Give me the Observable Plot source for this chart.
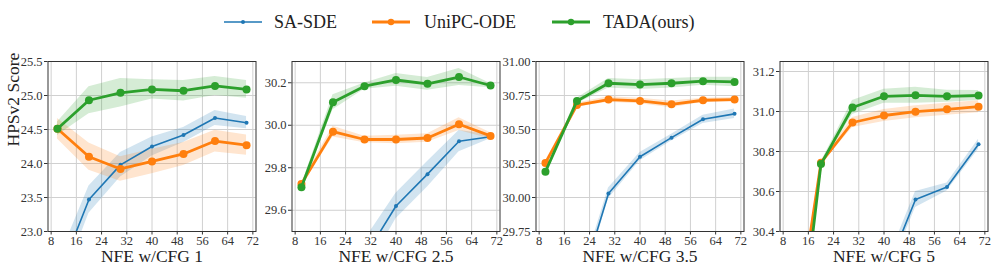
<!DOCTYPE html>
<html><head><meta charset="utf-8">
<script src="https://cdn.jsdelivr.net/npm/d3@7"></script>
<script src="https://cdn.jsdelivr.net/npm/@observablehq/plot@0.6"></script>
<style>
body{margin:0;background:#fff;width:996px;height:272px;position:relative;overflow:hidden;font-family:"Liberation Serif",serif;}
#legend{position:absolute;top:0;left:0;}
.panel{position:absolute;top:45px;}
</style></head><body>
<div id="legend"></div>
<div id="charts"></div>
<script>
// ---- data ----
const nfe = [10, 20, 30, 40, 50, 60, 70];
const xTicks = [8, 16, 24, 32, 40, 48, 56, 64, 72];
const methods = ["SA-SDE", "UniPC-ODE", "TADA(ours)"];
const colors = ["#1f77b4", "#ff7f0e", "#2ca02c"];
const cfgLabels = ["NFE w/CFG 1", "NFE w/CFG 2.5", "NFE w/CFG 3.5", "NFE w/CFG 5"];
const yLabel = "HPSv2 Score";

// CFG 1
const cfg1_sa      = [22.30, 23.47, 23.98, 24.25, 24.42, 24.67, 24.60];
const cfg1_sa_sd   = [0.25, 0.20, 0.18, 0.14, 0.11, 0.11, 0.09];
const cfg1_unipc   = [24.51, 24.10, 23.92, 24.03, 24.14, 24.33, 24.27];
const cfg1_unipc_sd= [0.15, 0.20, 0.18, 0.18, 0.17, 0.16, 0.15];
const cfg1_tada    = [24.51, 24.93, 25.04, 25.09, 25.07, 25.14, 25.09];
const cfg1_tada_sd = [0.10, 0.20, 0.21, 0.14, 0.15, 0.14, 0.13];
// CFG 2.5
const cfg25_sa      = [null, null, 29.38, 29.62, 29.77, 29.925, 29.946];
const cfg25_sa_sd   = [null, null, 0.08, 0.06, 0.06, 0.05, 0.01];
const cfg25_unipc   = [29.724, 29.97, 29.933, 29.933, 29.94, 30.005, 29.95];
const cfg25_unipc_sd= [0.01, 0.025, 0.015, 0.02, 0.02, 0.03, 0.015];
const cfg25_tada    = [29.708, 30.108, 30.184, 30.213, 30.195, 30.227, 30.187];
const cfg25_tada_sd = [0.01, 0.035, 0.015, 0.03, 0.03, 0.04, 0.01];
// CFG 3.5
const cfg35_sa      = [null, 29.27, 30.03, 30.30, 30.44, 30.575, 30.615];
const cfg35_sa_sd   = [null, 0.05, 0.04, 0.03, 0.025, 0.03, 0.035];
const cfg35_unipc   = [30.254, 30.68, 30.72, 30.71, 30.685, 30.715, 30.72];
const cfg35_unipc_sd= [0.015, 0.015, 0.02, 0.02, 0.025, 0.015, 0.015];
const cfg35_tada    = [30.19, 30.71, 30.84, 30.83, 30.84, 30.855, 30.85];
const cfg35_tada_sd = [0.01, 0.02, 0.035, 0.035, 0.035, 0.03, 0.035];
// CFG 5
const cfg5_sa      = [null, null, null, 30.17, 30.56, 30.623, 30.836];
const cfg5_sa_sd   = [null, null, null, 0.04, 0.04, 0.02, 0.025];
const cfg5_unipc   = [29.70, 30.744, 30.945, 30.98, 30.999, 31.011, 31.024];
const cfg5_unipc_sd= [0.02, 0.01, 0.025, 0.03, 0.03, 0.03, 0.03];
const cfg5_tada    = [29.40, 30.737, 31.02, 31.076, 31.081, 31.076, 31.08];
const cfg5_tada_sd = [0.02, 0.01, 0.035, 0.035, 0.04, 0.03, 0.025];

const yDomains = [[23, 25.5], [29.5, 30.3], [29.75, 31.0], [30.4, 31.25]];
const yTicks = [
  [23.0, 23.5, 24.0, 24.5, 25.0, 25.5],
  [29.6, 29.8, 30.0, 30.2],
  [29.75, 30.0, 30.25, 30.5, 30.75, 31.0],
  [30.4, 30.6, 30.8, 31.0, 31.2]
];
const yFormats = [".1f", ".1f", ".2f", ".1f"];

const panels = [
  [[cfg1_sa, cfg1_sa_sd], [cfg1_unipc, cfg1_unipc_sd], [cfg1_tada, cfg1_tada_sd]],
  [[cfg25_sa, cfg25_sa_sd], [cfg25_unipc, cfg25_unipc_sd], [cfg25_tada, cfg25_tada_sd]],
  [[cfg35_sa, cfg35_sa_sd], [cfg35_unipc, cfg35_unipc_sd], [cfg35_tada, cfg35_tada_sd]],
  [[cfg5_sa, cfg5_sa_sd], [cfg5_unipc, cfg5_unipc_sd], [cfg5_tada, cfg5_tada_sd]]
];

// ---- styling ----
const FONT = "Liberation Serif";
const lineW = [1.6, 2.8, 2.8];
const dotR = [2.0, 4.0, 4.0];

const charts = document.getElementById("charts");
panels.forEach((series, pi) => {
  const rows = [];
  series.forEach(([mean, sd], mi) => {
    nfe.forEach((x, k) => {
      const y = mean[k];
      rows.push({x, y, lo: y == null ? null : y - sd[k], hi: y == null ? null : y + sd[k], m: methods[mi]});
    });
  });
  const marks = [
    Plot.gridX(xTicks, {stroke: "#d0d0d0", strokeOpacity: 1, strokeWidth: 1}),
    Plot.gridY(yTicks[pi], {stroke: "#d0d0d0", strokeOpacity: 1, strokeWidth: 1})
  ];
  methods.forEach((m, mi) => {
    const d = rows.filter(r => r.m === m);
    marks.push(Plot.areaY(d, {x: "x", y1: "lo", y2: "hi", fill: colors[mi], fillOpacity: 0.2, clip: true}));
  });
  methods.forEach((m, mi) => {
    const d = rows.filter(r => r.m === m);
    marks.push(Plot.line(d, {x: "x", y: "y", stroke: colors[mi], strokeWidth: lineW[mi], clip: true}));
    marks.push(Plot.dot(d, {x: "x", y: "y", fill: colors[mi], r: dotR[mi], clip: true}));
  });
  marks.push(Plot.frame({stroke: "#333", strokeWidth: 1}));
  marks.push(Plot.axisX(xTicks, {tickSize: 3.5, tickPadding: 1, stroke: "#333", fill: "#333", label: null, fontSize: 12.5, fontFamily: FONT}));
  marks.push(Plot.axisY(yTicks[pi], {tickSize: 3.5, tickPadding: 2, stroke: "#333", fill: "#333", label: null, fontSize: 12.5, fontFamily: FONT, tickFormat: d3.format(yFormats[pi])}));
  marks.push(Plot.text([cfgLabels[pi]], {frameAnchor: "bottom", dy: 30.5, fontSize: 17.5, fontFamily: FONT, fill: "#222", text: d => d}));
  if (pi === 0) {
    marks.push(Plot.text([yLabel], {frameAnchor: "left", dx: -35, rotate: -90, fontSize: 17.5, fontFamily: FONT, fill: "#222", text: d => d}));
  }
  const svg = Plot.plot({
    width: 262, height: 227,
    marginLeft: 47.5, marginRight: 6.5, marginTop: 16, marginBottom: 41,
    x: {domain: [7, 73]},
    y: {domain: yDomains[pi]},
    style: {background: "none", overflow: "visible", fontFamily: FONT, fontSize: "12.5px", color: "#333", maxWidth: "none"},
    marks
  });
  const div = document.createElement("div");
  div.className = "panel";
  div.style.left = (pi * 244) + "px";
  div.appendChild(svg);
  charts.appendChild(div);
});

// ---- legend ----
const legendItems = [
  {x: 224, tx: 274},
  {x: 372, tx: 424},
  {x: 552, tx: 603}
];
const lsvg = d3.select("#legend").append("svg").attr("width", 996).attr("height", 44);
methods.forEach((m, i) => {
  const g = lsvg.append("g");
  const y = 22;
  const x0 = legendItems[i].x;
  g.append("line").attr("x1", x0).attr("x2", x0 + 38).attr("y1", y).attr("y2", y)
    .attr("stroke", colors[i]).attr("stroke-width", lineW[i]);
  g.append("circle").attr("cx", x0 + 19).attr("cy", y).attr("r", i === 0 ? 2 : 3.2).attr("fill", colors[i]);
  g.append("text").attr("x", legendItems[i].tx).attr("y", y).attr("dy", "0.35em")
    .attr("font-family", FONT).attr("font-size", 18).attr("fill", "#222").text(m);
});
</script>
</body></html>
